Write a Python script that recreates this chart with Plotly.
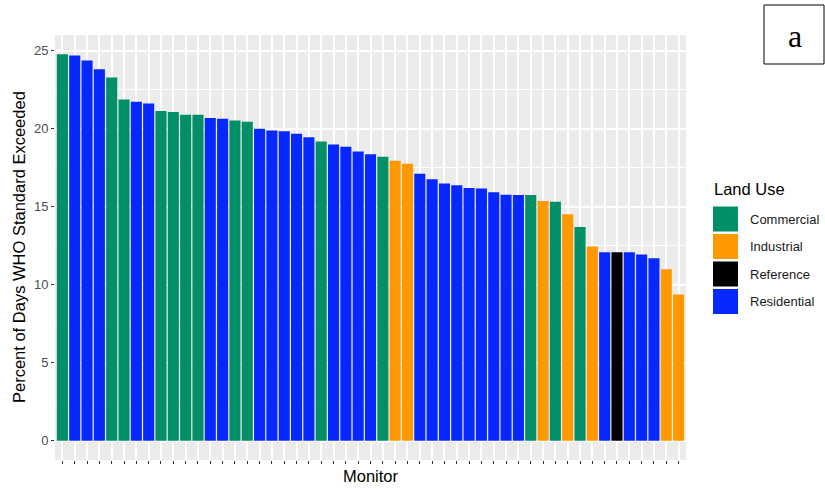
import plotly.graph_objects as go

# Share of days above the WHO guideline, one bar per monitor (sorted)
monitor_ids = list(range(1, 52))
pct_exceeded = [24.78, 24.71, 24.39, 23.83, 23.30, 21.89, 21.74, 21.62, 21.14, 21.08,
                20.91, 20.91, 20.69, 20.65, 20.54, 20.46, 20.01, 19.90, 19.84, 19.69,
                19.46, 19.19, 18.99, 18.85, 18.54, 18.37, 18.21, 17.96, 17.76, 17.12,
                16.76, 16.49, 16.38, 16.21, 16.17, 15.94, 15.78, 15.76, 15.76, 15.37,
                15.33, 14.52, 13.71, 12.45, 12.08, 12.08, 12.08, 11.94, 11.70, 10.99,
                9.38]
land_use = ["Commercial", "Residential", "Residential", "Residential", "Commercial",
            "Commercial", "Residential", "Residential", "Commercial", "Commercial",
            "Commercial", "Commercial", "Residential", "Residential", "Commercial",
            "Commercial", "Residential", "Residential", "Residential", "Residential",
            "Residential", "Commercial", "Residential", "Residential", "Residential",
            "Residential", "Commercial", "Industrial", "Industrial", "Residential",
            "Residential", "Residential", "Residential", "Residential", "Residential",
            "Residential", "Residential", "Residential", "Commercial", "Industrial",
            "Commercial", "Industrial", "Commercial", "Industrial", "Residential",
            "Reference", "Residential", "Residential", "Residential", "Industrial",
            "Industrial"]
categories = ["Commercial", "Industrial", "Reference", "Residential"]
palette = {"Commercial": "#008F66", "Industrial": "#FF9900",
           "Reference": "#000000", "Residential": "#0628FF"}
y_ticks = [0, 5, 10, 15, 20, 25]

W, H = 825, 489
L, R, T, B = 55, 139, 35, 29
PW, PH = W - L - R, H - T - B


def px(x):
    return (x - L) / PW


def py(y):
    return (H - B - y) / PH


fig = go.Figure()
fig.add_trace(go.Bar(
    x=monitor_ids, y=pct_exceeded, width=0.9,
    marker=dict(color=[palette[u] for u in land_use], line=dict(width=0)),
    showlegend=False, hoverinfo="x+y",
))

ymax = max(pct_exceeded)
pad = 0.05 * ymax

shapes = []
annotations = []

# Legend drawn as keys plus labels
annotations.append(dict(text="Land Use", x=px(712), y=py(189), xref="paper", yref="paper",
                        xanchor="left", yanchor="middle", showarrow=False,
                        font=dict(family="Liberation Sans, Arial", size=16.5, color="#000")))
key_top = 206.5
for i, cat in enumerate(categories):
    y0 = key_top + i * 27.5
    shapes.append(dict(type="rect", xref="paper", yref="paper",
                       x0=px(713), x1=px(738), y0=py(y0 + 25), y1=py(y0),
                       fillcolor=palette[cat], line=dict(width=0), layer="above"))
    annotations.append(dict(text=cat, x=px(748), y=py(y0 + 12.5), xref="paper", yref="paper",
                            xanchor="left", yanchor="middle", showarrow=False,
                            font=dict(family="Liberation Sans, Arial", size=13, color="#1a1a1a")))

# Axis titles
annotations.append(dict(text="Percent of Days WHO Standard Exceeded", textangle=-90,
                        x=px(18.5), y=0.5, xref="paper", yref="paper",
                        xanchor="center", yanchor="middle", showarrow=False,
                        font=dict(family="Liberation Sans, Arial", size=16.5, color="#000")))
annotations.append(dict(text="Monitor", x=0.5, y=py(476), xref="paper", yref="paper",
                        xanchor="center", yanchor="middle", showarrow=False,
                        font=dict(family="Liberation Sans, Arial", size=16.5, color="#000")))

# Panel tag in the corner
shapes.append(dict(type="rect", xref="paper", yref="paper",
                   x0=px(764), x1=px(824), y0=py(64), y1=py(5),
                   fillcolor="white", line=dict(color="#000", width=1)))
annotations.append(dict(text="a", x=px(795), y=py(36), xref="paper", yref="paper",
                        xanchor="center", yanchor="middle", showarrow=False,
                        font=dict(family="Liberation Serif, Times New Roman", size=32, color="#000")))

fig.update_layout(
    width=W, height=H,
    margin=dict(l=L, r=R, t=T, b=B),
    paper_bgcolor="white", plot_bgcolor="#EBEBEB",
    shapes=shapes, annotations=annotations,
    showlegend=False,
    xaxis=dict(range=[0.4, 51.6], tickvals=monitor_ids, ticktext=[""] * len(monitor_ids),
               showticklabels=False, ticks="outside", ticklen=3, tickwidth=1,
               tickcolor="#333333", showgrid=True, gridcolor="white", gridwidth=1.5,
               zeroline=False, showline=False, fixedrange=True),
    yaxis=dict(range=[-pad, ymax + pad], tickvals=y_ticks,
               ticktext=[str(v) for v in y_ticks], ticks="outside", ticklen=3,
               tickwidth=1, tickcolor="#333333",
               tickfont=dict(family="Liberation Sans, Arial", size=13, color="#4D4D4D"),
               showgrid=True, gridcolor="white", gridwidth=1.5,
               minor=dict(tickvals=[2.5, 7.5, 12.5, 17.5, 22.5], showgrid=True,
                          gridcolor="white", gridwidth=0.8, ticks=""),
               zeroline=False, showline=False, fixedrange=True),
)

fig.write_html("out.html")
